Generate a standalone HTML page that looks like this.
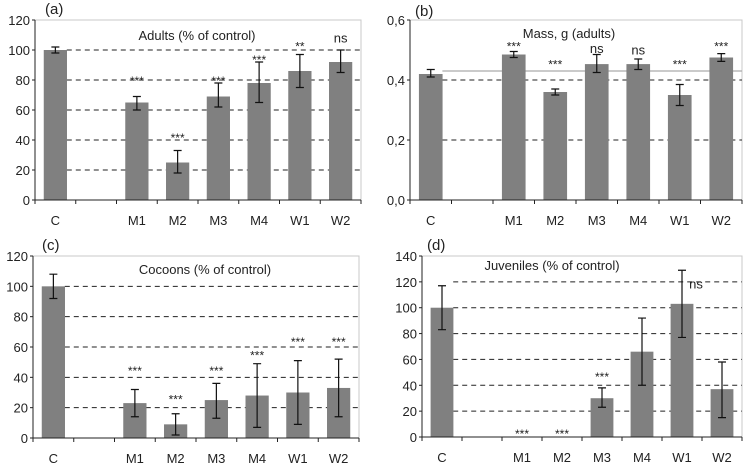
<!DOCTYPE html>
<html><head><meta charset="utf-8"><style>
body{margin:0;background:#fff}
svg text{font-family:"Liberation Sans",Arial,sans-serif;fill:#222}
</style></head><body>
<svg id="fig" width="745" height="463" viewBox="0 0 745 463" xmlns="http://www.w3.org/2000/svg"></svg>
<script>
const categories = ["C","","M1","M2","M3","M4","W1","W2"];
const adultsVals = [100,null,65,25,69,78,86,92];
const adultsLo = [98,null,60,18,62,65,75,85];
const adultsHi = [102,null,69,33,78,92,97,100];
const adultsSig = ["",null,"***","***","***","***","**","ns"];
const adultsSigY = [null,null,80,42,80,94,103,105];
const massVals = [0.42,null,0.485,0.36,0.453,0.453,0.35,0.475];
const massLo = [0.41,null,0.475,0.35,0.425,0.435,0.315,0.462];
const massHi = [0.435,null,0.495,0.37,0.485,0.47,0.385,0.488];
const massSig = ["",null,"***","***","ns","ns","***","***"];
const massSigY = [null,null,0.515,0.455,0.49,0.485,0.455,0.515];
const cocVals = [100,null,23,9,25,28,30,33];
const cocLo = [92,null,14,2,13,7,9,14];
const cocHi = [108,null,32,16,36,49,51,52];
const cocSig = ["",null,"***","***","***","***","***","***"];
const cocSigY = [null,null,45,26,45,55,64,64];
const juvVals = [100,null,0,0,30,66,103,37];
const juvLo = [83,null,0,0,23,40,77,15];
const juvHi = [117,null,0,0,38,92,129,58];
const juvSig = ["",null,"***","***","***","","ns",""];
const juvSigY = [null,null,3,3,47,null,115,null];
const adultsTicks = ["0","20","40","60","80","100","120"];
const massTicks = ["0,0","0,2","0,4","0,6"];
const cocTicks = ["0","20","40","60","80","100","120"];
const juvTicks = ["0","20","40","60","80","100","120","140"];

const svg = document.getElementById('fig');
const NS = 'http://www.w3.org/2000/svg';
function mk(tag, attrs, parent){const e=document.createElementNS(NS,tag);for(const k in attrs)e.setAttribute(k,attrs[k]);(parent||svg).appendChild(e);return e;}

function panel(o){
  const g = mk('g',{});
  
  
  const yS = v => o.y0 - (v/o.max)*(o.y0-o.y1);
  const slot = (o.x1-o.x0)/categories.length;
  const xC = i => o.x0 + slot*(i+0.5);
  // frame
  const fr = mk('polyline',{points:`${o.x0},${o.y1} ${o.x1},${o.y1} ${o.x1},${o.y0}`,fill:'none',stroke:'#c8c8c8','stroke-width':1},g);
  
  
  // grid
  o.ticks.forEach((t,i)=>{
    const v = i*o.step;
    const y = yS(v);
    if(v>0 && v<o.max-1e-9 && !(o.noGrid||[]).includes(i)){
      const gl = mk('line',{x1:o.x0+slot*0.78,x2:o.x1,y1:y,y2:y,stroke:'#222','stroke-width':1,'stroke-dasharray':'5,4'},g);
      
      
    }
    const tl = mk('text',{x:o.x0-5,y:y+5,'text-anchor':'end','font-size':13},g);
    tl.textContent = t;
    
    
    const tk = mk('line',{x1:o.x0-3,x2:o.x0,y1:y,y2:y,stroke:'#222'},g);
    
    
  });
  if(o.refLine!=null){
    const rl = mk('line',{x1:o.x0+slot*0.78,x2:o.x1,y1:yS(o.refLine),y2:yS(o.refLine),stroke:'#aaa','stroke-width':1.2},g);
    
    
  }
  const bw = slot*0.57;
  categories.forEach((c,i)=>{
    const v = o.vals[i];
    if(v!=null && v>0){
      const b = mk('rect',{x:xC(i)-bw/2,y:yS(v),width:bw,height:o.y0-yS(v),fill:'#808080'},g);
      
      
      const ylo=yS(o.lo[i]), yhi=yS(o.hi[i]);
      const eb = mk('path',{d:`M${xC(i)},${ylo}V${yhi}M${xC(i)-4},${ylo}h8M${xC(i)-4},${yhi}h8`,stroke:'#111','stroke-width':1.2,fill:'none'},g);
      
      
    }
    if(o.sig[i]){
      const dx = o.sigDx && o.sigDx[i] ? o.sigDx[i] : 0;
      const s = mk('text',{x:xC(i)+dx,y:yS(o.sigY[i])+ (o.sig[i]==='ns'?0:5),'text-anchor':'middle','font-size':o.sig[i]==='ns'?13:12},g);
      s.textContent = o.sig[i];
      
      
    }
    const xl = mk('text',{x:xC(i),y:o.y0+25,'text-anchor':'middle','font-size':13},g);
    xl.textContent = c;
    
    
  });
  for(let i=0;i<=categories.length;i++){
    const x=o.x0+slot*i;
    const tk = mk('line',{x1:x,x2:x,y1:o.y0,y2:o.y0+4,stroke:'#222'},g);
    
    
  }
  const ax = mk('path',{d:`M${o.x0},${o.y1}V${o.y0}H${o.x1}`,stroke:'#222',fill:'none','stroke-width':1},g);
  
  
  const ti = mk('text',{x:o.tx,y:o.ty,'text-anchor':'middle','font-size':13},g);
  ti.textContent = o.title;
  
  
  const lb = mk('text',{x:o.lx,y:o.ly,'font-size':15},g);
  lb.textContent = o.label;
  
  
}

panel({name:'panel-a-adults',x0:35,x1:361,y0:200,y1:20,max:120,step:20,ticks:adultsTicks,vals:adultsVals,lo:adultsLo,hi:adultsHi,sig:adultsSig,sigY:adultsSigY,title:'Adults (% of control)',tx:197,ty:40,label:'(a)',lx:45,ly:14});
panel({name:'panel-b-mass',x0:410,x1:742,y0:200,y1:20,max:0.6,step:0.2,ticks:massTicks,vals:massVals,lo:massLo,hi:massHi,sig:massSig,sigY:massSigY,refLine:0.43,title:'Mass, g (adults)',tx:569,ty:38,label:'(b)',lx:415,ly:16});
panel({name:'panel-c-cocoons',x0:33,x1:359,y0:438,y1:256,max:120,step:20,ticks:cocTicks,vals:cocVals,lo:cocLo,hi:cocHi,sig:cocSig,sigY:cocSigY,title:'Cocoons (% of control)',tx:205,ty:274,label:'(c)',lx:42,ly:250});
panel({name:'panel-d-juveniles',x0:422,x1:742,y0:437,y1:256,max:140,step:20,ticks:juvTicks,vals:juvVals,lo:juvLo,hi:juvHi,sig:juvSig,sigY:juvSigY,sigDx:[0,0,0,0,0,0,14,0],title:'Juveniles (% of control)',tx:552,ty:270,label:'(d)',lx:427,ly:250});
</script>
</body></html>
